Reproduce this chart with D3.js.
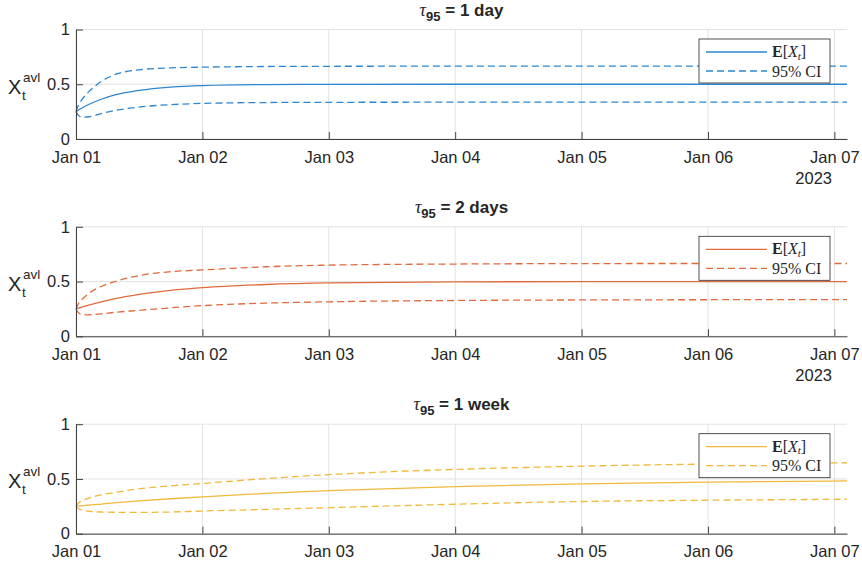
<!DOCTYPE html>
<html>
<head>
<meta charset="utf-8">
<script src="https://cdn.jsdelivr.net/npm/d3@7"></script>
<style>
  body { margin: 0; background: #fff; }
  svg text { font-family: "Liberation Sans", Arial, Helvetica, sans-serif; fill: #262626; }
  .serif { font-family: "Liberation Serif", "Times New Roman", serif; }
</style>
</head>
<body>
<script>
// time since Jan 01 2023, in days
var days = [0, 0.02, 0.05, 0.1, 0.2, 0.3, 0.5, 0.75, 1, 1.5, 2, 3, 4, 5, 6, 6.1];

var tauLabels = ["1 day", "2 days", "1 week"];

// tau95 = 1 day
var mean1 = [0.25, 0.265, 0.285, 0.315, 0.363, 0.40, 0.444, 0.474, 0.488, 0.497, 0.499, 0.5, 0.5, 0.5, 0.5, 0.5];
var upper1 = [0.25, 0.31, 0.365, 0.43, 0.525, 0.585, 0.632, 0.65, 0.656, 0.662, 0.664, 0.665, 0.665, 0.665, 0.665, 0.665];
var lower1 = [0.25, 0.215, 0.2, 0.203, 0.232, 0.258, 0.292, 0.314, 0.325, 0.333, 0.335, 0.336, 0.336, 0.336, 0.336, 0.336];

// tau95 = 2 days
var mean2 = [0.25, 0.257, 0.268, 0.285, 0.315, 0.341, 0.382, 0.419, 0.444, 0.473, 0.488, 0.497, 0.499, 0.5, 0.5, 0.5];
var upper2 = [0.25, 0.3, 0.34, 0.39, 0.455, 0.497, 0.555, 0.59, 0.606, 0.635, 0.65, 0.66, 0.664, 0.665, 0.665, 0.665];
var lower2 = [0.25, 0.215, 0.2, 0.196, 0.205, 0.218, 0.237, 0.26, 0.28, 0.303, 0.315, 0.327, 0.332, 0.334, 0.335, 0.335];

// tau95 = 1 week
var mean3 = [0.25, 0.252, 0.255, 0.261, 0.271, 0.281, 0.299, 0.319, 0.337, 0.368, 0.394, 0.43, 0.455, 0.471, 0.481, 0.482];
var upper3 = [0.25, 0.28, 0.302, 0.325, 0.355, 0.375, 0.41, 0.437, 0.459, 0.503, 0.54, 0.587, 0.617, 0.636, 0.647, 0.648];
var lower3 = [0.25, 0.228, 0.215, 0.205, 0.198, 0.196, 0.195, 0.198, 0.207, 0.222, 0.238, 0.269, 0.294, 0.306, 0.314, 0.315];

var yTicks = [0, 0.5, 1];
var yearLabel = "2023";

var panels = [
    {tau: tauLabels[0], mean: mean1, upper: upper1, lower: lower1},
    {tau: tauLabels[1], mean: mean2, upper: upper2, lower: lower2},
    {tau: tauLabels[2], mean: mean3, upper: upper3, lower: lower3}
];

var width = 862,
    height = 567,
    left = 76,
    right = 847,
    panelH = 109.5,
    panelTops = [29.5, 226.8, 424.2],
    colors = ["#2d86cf", "#e06a3c", "#f0b93a"];

var start = new Date(2023, 0, 1);
function toDate(d) { return new Date(start.getTime() + d * 864e5); }

var x = d3.scaleTime()
    .domain([start, toDate(d3.max(days))])
    .range([left, right]);

var svg = d3.select("body").append("svg")
    .attr("width", width)
    .attr("height", height);

panels.forEach(function(p, i) {
    var top = panelTops[i],
        bottom = top + panelH,
        color = colors[i];

    var y = d3.scaleLinear().domain([0, 1]).range([bottom, top]);
    var g = svg.append("g");

    // grid
    g.selectAll(".vgrid")
        .data(x.ticks(d3.timeDay.every(1)))
        .enter().append("line")
        .attr("x1", function(d) { return x(d); })
        .attr("x2", function(d) { return x(d); })
        .attr("y1", top).attr("y2", bottom)
        .attr("stroke", "#e2e2e2");

    g.selectAll(".hgrid")
        .data(yTicks)
        .enter().append("line")
        .attr("x1", left).attr("x2", right)
        .attr("y1", function(d) { return y(d); })
        .attr("y2", function(d) { return y(d); })
        .attr("stroke", "#e2e2e2");

    // series
    var line = function(vals) {
        return d3.line()
            .x(function(d, k) { return x(toDate(days[k])); })
            .y(function(d) { return y(d); })
            .curve(d3.curveMonotoneX)(vals);
    };

    [p.upper, p.lower].forEach(function(vals) {
        g.append("path")
            .attr("d", line(vals))
            .attr("fill", "none")
            .attr("stroke", color)
            .attr("stroke-width", 1.3)
            .attr("stroke-dasharray", "7,4");
    });

    g.append("path")
        .attr("d", line(p.mean))
        .attr("fill", "none")
        .attr("stroke", color)
        .attr("stroke-width", 1.3);

    // axes
    var xAxis = g.append("g")
        .attr("transform", "translate(0," + bottom + ")")
        .call(d3.axisBottom(x)
            .ticks(d3.timeDay.every(1))
            .tickFormat(d3.timeFormat("%b %d"))
            .tickSizeInner(-7)
            .tickSizeOuter(0)
            .tickPadding(12));

    var yAxis = g.append("g")
        .attr("transform", "translate(" + left + ",0)")
        .call(d3.axisLeft(y)
            .tickValues(yTicks)
            .tickFormat(d3.format("~g"))
            .tickSizeInner(-7)
            .tickSizeOuter(0)
            .tickPadding(6));

    [xAxis, yAxis].forEach(function(a) {
        a.selectAll("path, line").attr("stroke", "#404040");
        a.selectAll("text")
            .attr("fill", "#262626")
            .style("font-size", "16.5px")
            .style("font-family", "'Liberation Sans', Arial, sans-serif");
    });

    if (i < 2) {
        g.append("text")
            .attr("x", 832)
            .attr("y", bottom + 45)
            .attr("text-anchor", "end")
            .style("font-size", "16.5px")
            .text(yearLabel);
    }

    // title
    var title = g.append("text")
        .attr("x", (left + right) / 2)
        .attr("y", top - 14)
        .attr("text-anchor", "middle")
        .style("font-size", "17px")
        .style("font-weight", "bold");
    title.append("tspan").attr("class", "serif")
        .style("font-style", "italic").style("font-weight", "normal")
        .style("font-size", "18px").text("\u03c4");
    title.append("tspan").attr("dy", 5).style("font-size", "13px").text("95");
    title.append("tspan").attr("dy", -5).text(" = " + p.tau);

    // y label
    var mid = (top + bottom) / 2;
    g.append("text").attr("x", 8).attr("y", mid + 9.5)
        .style("font-size", "20px").text("X");
    g.append("text").attr("x", 22).attr("y", mid + 15.5)
        .style("font-size", "13.5px").text("t");
    g.append("text").attr("x", 23).attr("y", mid - 2.5)
        .style("font-size", "13.5px").text("avl");

    // legend
    var lg = g.append("g");
    lg.append("rect")
        .attr("x", 699).attr("y", top + 9.5)
        .attr("width", 131).attr("height", 44)
        .attr("fill", "#fff")
        .attr("stroke", "#262626")
        .attr("stroke-width", 0.8);

    [top + 22.5, top + 41.5].forEach(function(ly, k) {
        lg.append("line")
            .attr("x1", 706).attr("x2", 767)
            .attr("y1", ly).attr("y2", ly)
            .attr("stroke", color)
            .attr("stroke-width", 1.3)
            .attr("stroke-dasharray", k ? "7,4" : null);
    });

    var l1 = lg.append("text").attr("class", "serif")
        .attr("x", 772).attr("y", top + 27.5)
        .style("font-size", "16px");
    l1.append("tspan").style("font-weight", "bold").text("E");
    l1.append("tspan").text("[");
    l1.append("tspan").style("font-style", "italic").text("X");
    l1.append("tspan").attr("dy", 2.5).style("font-style", "italic").style("font-size", "11px").text("t");
    l1.append("tspan").attr("dy", -2.5).text("]");

    lg.append("text").attr("class", "serif")
        .attr("x", 772).attr("y", top + 47)
        .style("font-size", "16px")
        .text("95% CI");
});
</script>
</body>
</html>
